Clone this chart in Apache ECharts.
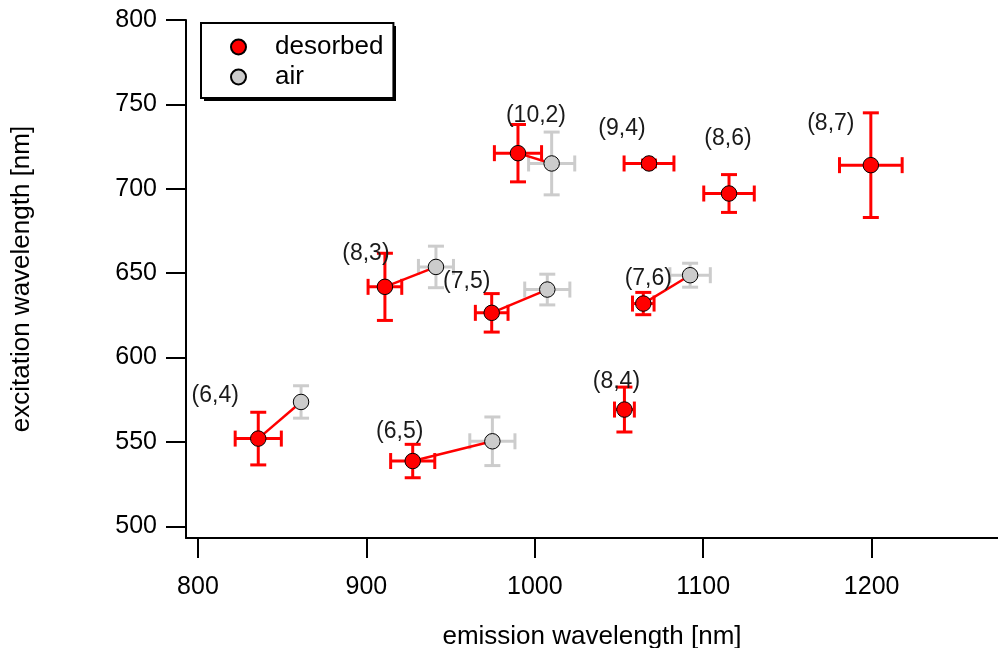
<!DOCTYPE html>
<html>
<head>
<meta charset="utf-8">
<script src="https://cdn.jsdelivr.net/npm/echarts@6/dist/echarts.min.js"></script>
<style>
html,body{margin:0;padding:0;background:#fff;}
#chart{width:998px;height:648px;}
</style>
</head>
<body>
<div id="chart"></div>
<script>
// ---- data ----
const desNames = ['(10,2)','(9,4)','(8,6)','(8,7)','(8,3)','(7,5)','(7,6)','(6,4)','(6,5)','(8,4)'];
const desX     = [990.0, 1067.8, 1115.3, 1199.5, 911.0, 974.4, 1064.4, 835.8, 927.5, 1053.2];
const desY     = [721.1, 715.0, 697.2, 714.0, 641.9, 626.5, 632.0, 552.0, 538.7, 569.2];
const desXErr  = [14.0, 14.8, 15.0, 18.6, 10.0, 9.7, 6.4, 13.7, 13.1, 5.9];
const desYErr  = [17.0, 2.0, 11.2, 31.0, 19.9, 11.4, 6.6, 15.6, 9.9, 13.3];

const airNames = ['(10,2)','(8,3)','(7,5)','(7,6)','(6,4)','(6,5)'];
const airX     = [1010.0, 941.3, 1007.4, 1092.2, 861.2, 974.8];
const airY     = [715.0, 653.7, 640.3, 648.8, 573.7, 550.4];
const airXErr  = [13.7, 10.4, 13.4, 12.0, 0, 13.4];
const airYErr  = [18.6, 12.3, 9.1, 7.1, 9.6, 14.4];

const xTicks = [800, 900, 1000, 1100, 1200];
const yTicks = [500, 550, 600, 650, 700, 750, 800];

// label offsets (px) relative to desorbed point, styling only
const labelOffsets = [[18,-38],[-27,-35],[-1,-55],[-40,-41],[-19,-33],[-25,-31],[5,-25],[-43,-43],[-13,-29],[-8,-28]];

// ---- build ----
const FONT = '"Liberation Sans", Arial, Helvetica, sans-serif';
const desData = desX.map((x,i)=>[x, desY[i], desXErr[i], desYErr[i]]);
const airData = airX.map((x,i)=>[x, airY[i], airXErr[i], airYErr[i]]);
const pairData = airNames.map((n,i)=>{
  const d = desNames.indexOf(n);
  return [desX[d], desY[d], airX[i], airY[i]];
});

function errRender(color){
  return function(params, api){
    const x = api.value(0), y = api.value(1), ex = api.value(2), ey = api.value(3);
    const cap = 8;
    const children = [];
    const st = {stroke: color, lineWidth: 3, fill: null};
    if (ex > 0){
      const l = api.coord([x-ex, y]), r = api.coord([x+ex, y]);
      children.push({type:'line', shape:{x1:l[0],y1:l[1],x2:r[0],y2:r[1]}, style:st});
      children.push({type:'line', shape:{x1:l[0],y1:l[1]-cap,x2:l[0],y2:l[1]+cap}, style:st});
      children.push({type:'line', shape:{x1:r[0],y1:r[1]-cap,x2:r[0],y2:r[1]+cap}, style:st});
    }
    if (ey > 0){
      const t = api.coord([x, y+ey]), b = api.coord([x, y-ey]);
      children.push({type:'line', shape:{x1:t[0],y1:t[1],x2:b[0],y2:b[1]}, style:st});
      children.push({type:'line', shape:{x1:t[0]-cap,y1:t[1],x2:t[0]+cap,y2:t[1]}, style:st});
      children.push({type:'line', shape:{x1:b[0]-cap,y1:b[1],x2:b[0]+cap,y2:b[1]}, style:st});
    }
    return {type:'group', children};
  };
}

const chart = echarts.init(document.getElementById('chart'), null, {renderer:'canvas'});
chart.setOption({
  animation: false,
  backgroundColor: '#fff',
  textStyle: {fontFamily: FONT},
  grid: {left: 186, right: 0, top: 20, bottom: 110, containLabel: false, outerBoundsMode: 'none'},
  graphic: [{
    type: 'rect', left: 204, top: 26, z: 0, zlevel: 0,
    shape: {width: 192, height: 75},
    style: {fill: '#000'}
  }],
  legend: {
    data: ['desorbed','air'],
    orient: 'vertical',
    left: 201, top: 23,
    icon: 'circle',
    itemWidth: 15, itemHeight: 15,
    itemGap: 0,
    padding: [9, 10, 6, 29],
    backgroundColor: '#fff',
    borderColor: '#000', borderWidth: 2, borderRadius: 0,
    z: 10,
    textStyle: {fontSize: 26, color: '#000', fontFamily: FONT, lineHeight: 30, padding: [0,0,0,24]},
    selectedMode: false
  },
  xAxis: {
    type: 'value', min: 792.9, max: 1275,
    name: 'emission wavelength [nm]', nameLocation: 'middle', nameGap: 86,
    nameTextStyle: {fontSize: 26, color: '#000', fontFamily: FONT},
    axisLine: {show: true, onZero: false, lineStyle: {color: '#000', width: 2}},
    axisTick: {show: true, inside: false, length: 20, lineStyle: {color:'#000', width: 2}, customValues: xTicks},
    axisLabel: {fontSize: 25, color: '#000', margin: 37, fontFamily: FONT, customValues: xTicks, formatter: v => String(v)},
    splitLine: {show: false}
  },
  yAxis: {
    type: 'value', min: 493.1, max: 800,
    name: 'excitation wavelength [nm]', nameLocation: 'middle', nameGap: 151, nameRotate: 90,
    nameTextStyle: {fontSize: 26, color: '#000', fontFamily: FONT},
    axisLine: {show: true, onZero: false, lineStyle: {color: '#000', width: 2}},
    axisTick: {show: true, inside: false, length: 20, lineStyle: {color:'#000', width: 2}, customValues: yTicks},
    axisLabel: {fontSize: 25, color: '#000', margin: 29, fontFamily: FONT, customValues: yTicks, formatter: v => String(v)},
    splitLine: {show: false}
  },
  series: [
    {
      name: 'airErr', type: 'custom', z: 2, silent: true,
      encode: {x: 0, y: 1},
      data: airData,
      renderItem: errRender('#cccccc')
    },
    {
      name: 'pairLines', type: 'custom', z: 3, silent: true,
      encode: {x: [0,2], y: [1,3]},
      data: pairData,
      renderItem: function(params, api){
        const a = api.coord([api.value(0), api.value(1)]);
        const b = api.coord([api.value(2), api.value(3)]);
        return {type:'line', shape:{x1:a[0],y1:a[1],x2:b[0],y2:b[1]}, style:{stroke:'#ff0000', lineWidth:2.5}};
      }
    },
    {
      name: 'air', type: 'scatter', z: 4,
      symbol: 'circle', symbolSize: 15.5,
      itemStyle: {color: '#cccccc', borderColor: '#000', borderWidth: 1, opacity: 1},
      data: airData.map(d=>[d[0], d[1]])
    },
    {
      name: 'desErr', type: 'custom', z: 5, silent: true,
      encode: {x: 0, y: 1},
      data: desData,
      renderItem: errRender('#ff0000')
    },
    {
      name: 'desorbed', type: 'scatter', z: 6,
      symbol: 'circle', symbolSize: 15.5,
      itemStyle: {color: '#ff0000', borderColor: '#000', borderWidth: 1, opacity: 1},
      label: {
        show: true, position: 'inside',
        fontSize: 23, color: '#1a1a1a', fontFamily: FONT,
        formatter: p => desNames[p.dataIndex]
      },
      labelLayout: function(params){
        const o = labelOffsets[params.dataIndex];
        const r = params.rect;
        return {x: r.x + r.width/2 + o[0], y: r.y + r.height/2 + o[1], align: 'center', verticalAlign: 'middle'};
      },
      data: desData.map(d=>[d[0], d[1]])
    }
  ]
});
</script>
</body>
</html>
